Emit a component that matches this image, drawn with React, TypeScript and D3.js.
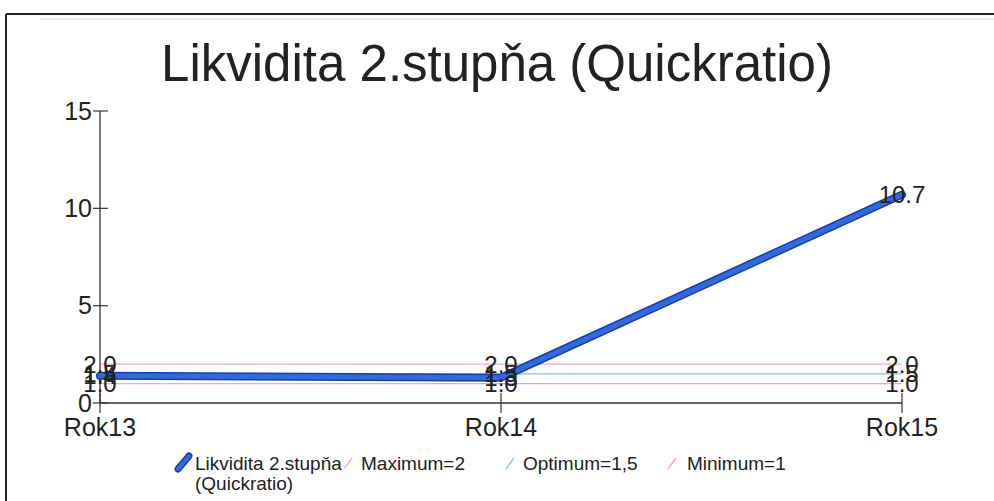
import React from "react";
import * as d3 from "d3";

const categories = ["Rok13", "Rok14", "Rok15"];
const seriesValues = [1.4, 1.3, 10.7];
const maximumValues = [2, 2, 2];
const optimumValues = [1.5, 1.5, 1.5];
const minimumValues = [1, 1, 1];
const yTicks = [0, 5, 10, 15];
const legendLabels = ["Likvidita 2.stupňa", "Maximum=2", "Optimum=1,5", "Minimum=1"];
const title = "Likvidita 2.stupňa (Quickratio)";

const W = 994;
const H = 501;
const FONT = "'Liberation Sans', Arial, Helvetica, sans-serif";

export default function App() {
  const x = d3.scalePoint<string>().domain(categories).range([100, 902]);
  const y = d3.scaleLinear().domain([0, 15]).range([403, 111]);
  const line = d3
    .line<number>()
    .x((_, i) => x(categories[i]) as number)
    .y((d) => y(d));

  const refSeries = [
    { vals: maximumValues, color: "#f2a6cf" },
    { vals: optimumValues, color: "#7cc0ef" },
    { vals: minimumValues, color: "#f2a6cf" },
  ];

  const labelSets = [maximumValues, optimumValues, minimumValues, seriesValues];

  return (
    <svg
      width={W}
      height={H}
      style={{ position: "absolute", left: 0, top: 0, background: "#fff" }}
      fontFamily={FONT}
    >
      <rect x={0} y={0} width={W} height={H} fill="#fff" />
      {/* frame */}
      <line x1={6} y1={14} x2={W} y2={14} stroke="#222" strokeWidth={2.2} />
      <line x1={6} y1={14} x2={6} y2={H} stroke="#222" strokeWidth={2} />
      <line x1={40} y1={19} x2={W} y2={19} stroke="#ddd" strokeWidth={1} />

      <text x={497} y={81} textAnchor="middle" fontSize={51} fill="#222">
        {title}
      </text>

      {/* reference lines */}
      {refSeries.map((r, k) => (
        <path key={k} d={line(r.vals) || ""} fill="none" stroke={r.color} strokeWidth={1.3} />
      ))}

      {/* axes */}
      <line x1={100} y1={y(15)} x2={100} y2={y(0)} stroke="#333" strokeWidth={1.3} />
      <line x1={100} y1={y(0)} x2={902} y2={y(0)} stroke="#333" strokeWidth={1.3} />
      {yTicks.map((t) => (
        <g key={t}>
          <line x1={93} x2={108} y1={y(t)} y2={y(t)} stroke="#333" strokeWidth={1.2} />
          <text x={92} y={y(t)} dy="0.35em" textAnchor="end" fontSize={25} fill="#222">
            {t}
          </text>
        </g>
      ))}
      {categories.map((c) => (
        <g key={c}>
          <line x1={x(c)} x2={x(c)} y1={y(0) - 10} y2={y(0) + 10} stroke="#333" strokeWidth={1.2} />
          <text x={x(c)} y={436} textAnchor="middle" fontSize={25} fill="#222">
            {c}
          </text>
        </g>
      ))}

      {/* main series */}
      <path d={line(seriesValues) || ""} fill="none" stroke="#1b3f9e" strokeWidth={8} strokeLinejoin="round" strokeLinecap="round" />
      <path d={line(seriesValues) || ""} fill="none" stroke="#2f6ae6" strokeWidth={5} strokeLinejoin="round" strokeLinecap="round" />

      {/* value labels */}
      {labelSets.map((vals, k) =>
        vals.map((v, i) => (
          <text
            key={`${k}-${i}`}
            x={x(categories[i])}
            y={y(v)}
            dy="0.36em"
            textAnchor="middle"
            fontSize={24}
            fill="#222"
          >
            {v.toFixed(1)}
          </text>
        ))
      )}

      {/* legend */}
      <g fontSize={19} fill="#222">
        <line x1={178} y1={469} x2={189} y2={456} stroke="#1b3f9e" strokeWidth={7} strokeLinecap="round" />
        <line x1={178} y1={469} x2={189} y2={456} stroke="#2f6ae6" strokeWidth={4} strokeLinecap="round" />
        <text x={195} y={470}>{legendLabels[0]}</text>
        <text x={195} y={490}>(Quickratio)</text>
        <line x1={344} y1={469} x2={352} y2={458} stroke="#f2a6cf" strokeWidth={1.3} />
        <text x={361} y={470}>{legendLabels[1]}</text>
        <line x1={506} y1={469} x2={514} y2={458} stroke="#7cc0ef" strokeWidth={1.3} />
        <text x={523} y={470}>{legendLabels[2]}</text>
        <line x1={668} y1={469} x2={676} y2={458} stroke="#f2a6cf" strokeWidth={1.3} />
        <text x={687} y={470}>{legendLabels[3]}</text>
      </g>
    </svg>
  );
}
